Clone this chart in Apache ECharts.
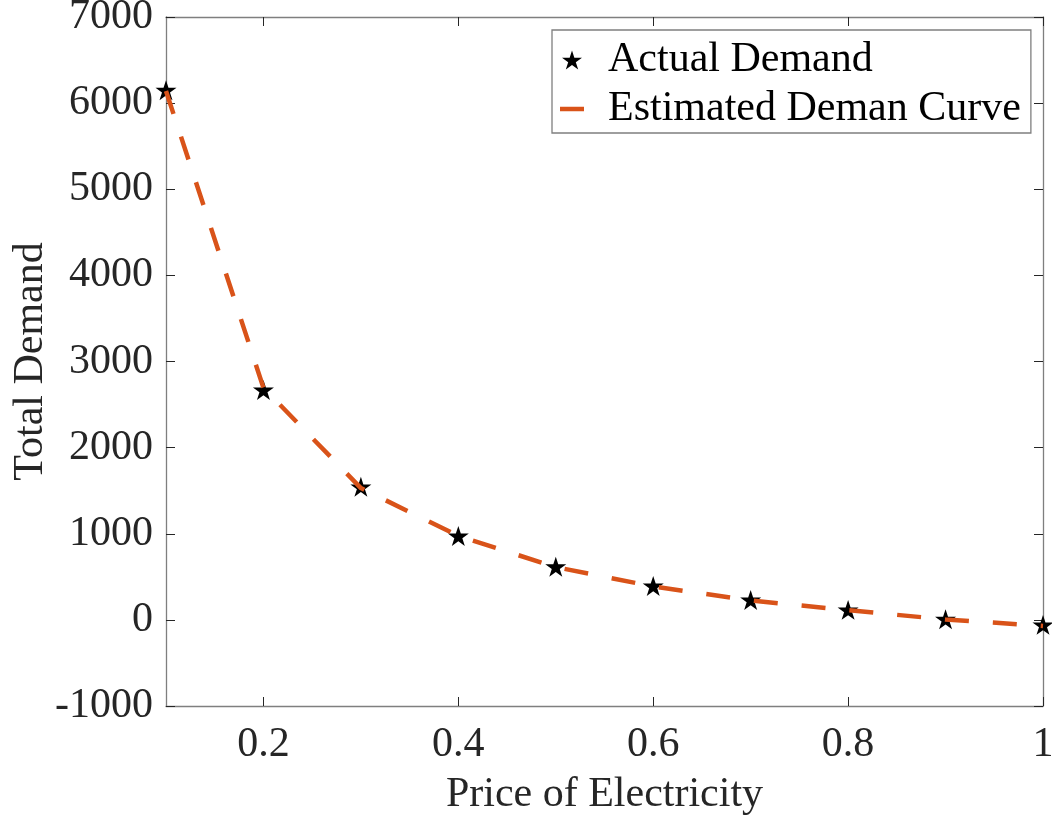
<!DOCTYPE html>
<html>
<head>
<meta charset="utf-8">
<script src="https://cdn.jsdelivr.net/npm/echarts@6/dist/echarts.min.js"></script>
<style>
html,body{margin:0;padding:0;background:#fff;}
#chart{width:1052px;height:821px;}
</style>
</head>
<body>
<div id="chart"></div>
<script>
// Data
const prices = [0.1, 0.2, 0.3, 0.4, 0.5, 0.6, 0.7, 0.8, 0.9, 1.0];
const actualDemand = [6150, 2670, 1545, 975, 618, 394, 232, 116, 8, -58];
const estimatedDemand = [6140, 2695, 1530, 975, 612, 388, 226, 112, 5, -70];
const xTicks = [0.2, 0.4, 0.6, 0.8, 1];
const yMin = -1000, yMax = 7000, yStep = 1000;
const xMin = 0.1, xMax = 1;

const STAR = 'path://M0,-10 L2.245,-3.09 L9.511,-3.09 L3.633,1.18 L5.878,8.09 L0,3.82 L-5.878,8.09 L-3.633,1.18 L-9.511,-3.09 L-2.245,-3.09 Z';
const BAR = 'path://M0,0 L24,0 L24,4.5 L0,4.5 Z';
const FONT = 'Liberation Serif';
const TXT = '#262626';
const AX = '#7f7f7f';

const chart = echarts.init(document.getElementById('chart'));
const axisCommon = {
  axisLine: {show: true, onZero: false, lineStyle: {color: AX, width: 1.3}},
  splitLine: {show: false}
};
chart.setOption({
  animation: false,
  backgroundColor: '#fff',
  grid: {left: 166, right: 9, top: 17, bottom: 115, containLabel: false, outerBoundsMode: 'none'},
  legend: {
    orient: 'vertical',
    left: 552, top: 30,
    width: 479,
    padding: [9, 10, 3, 8],
    itemGap: 7,
    itemWidth: 24, itemHeight: 19,
    borderColor: AX, borderWidth: 1.3,
    backgroundColor: '#fff',
    textStyle: {fontFamily: FONT, fontSize: 42, color: '#000', padding: [0, 0, 0, 19]},
    data: [
      {name: 'Actual Demand', icon: STAR},
      {name: 'Estimated Deman Curve', icon: BAR}
    ]
  },
  xAxis: [
    Object.assign({
      type: 'value', min: xMin, max: xMax, position: 'bottom',
      name: 'Price of Electricity', nameLocation: 'middle', nameGap: 68, nameMoveOverlap: false,
      nameTextStyle: {fontFamily: FONT, fontSize: 42, color: TXT},
      axisTick: {show: true, inside: true, length: 9, customValues: xTicks, lineStyle: {color: TXT}},
      axisLabel: {show: true, customValues: xTicks, margin: 18, fontFamily: FONT, fontSize: 42, color: TXT,
        formatter: v => String(+(+v).toFixed(1))}
    }, axisCommon),
    Object.assign({
      type: 'value', min: xMin, max: xMax, position: 'top',
      axisTick: {show: true, inside: true, length: 9, customValues: xTicks, lineStyle: {color: TXT}},
      axisLabel: {show: false}
    }, axisCommon)
  ],
  yAxis: [
    Object.assign({
      type: 'value', min: yMin, max: yMax, interval: yStep, position: 'left',
      name: 'Total Demand', nameLocation: 'middle', nameGap: 114, nameMoveOverlap: false,
      nameTextStyle: {fontFamily: FONT, fontSize: 42, color: TXT},
      axisTick: {show: true, inside: true, length: 9, lineStyle: {color: TXT}},
      axisLabel: {show: true, margin: 13, fontFamily: FONT, fontSize: 42, color: TXT,
        formatter: v => String(Math.round(v))}
    }, axisCommon),
    Object.assign({
      type: 'value', min: yMin, max: yMax, interval: yStep, position: 'right',
      axisTick: {show: true, inside: true, length: 9, lineStyle: {color: TXT}},
      axisLabel: {show: false}
    }, axisCommon)
  ],
  series: [
    {
      name: 'Actual Demand', type: 'scatter',
      symbol: STAR, symbolSize: 21, symbolKeepAspect: true,
      itemStyle: {color: '#000', opacity: 1},
      data: prices.map((p, i) => [p, actualDemand[i]]),
      z: 2
    },
    {
      name: 'Estimated Deman Curve', type: 'line',
      showSymbol: false, symbol: 'none', smooth: false, symbolKeepAspect: true,
      lineStyle: {color: '#D95319', width: 4.5, type: [24, 24]},
      itemStyle: {color: '#D95319'},
      data: prices.map((p, i) => [p, estimatedDemand[i]]),
      z: 3
    }
  ]
});
</script>
</body>
</html>
